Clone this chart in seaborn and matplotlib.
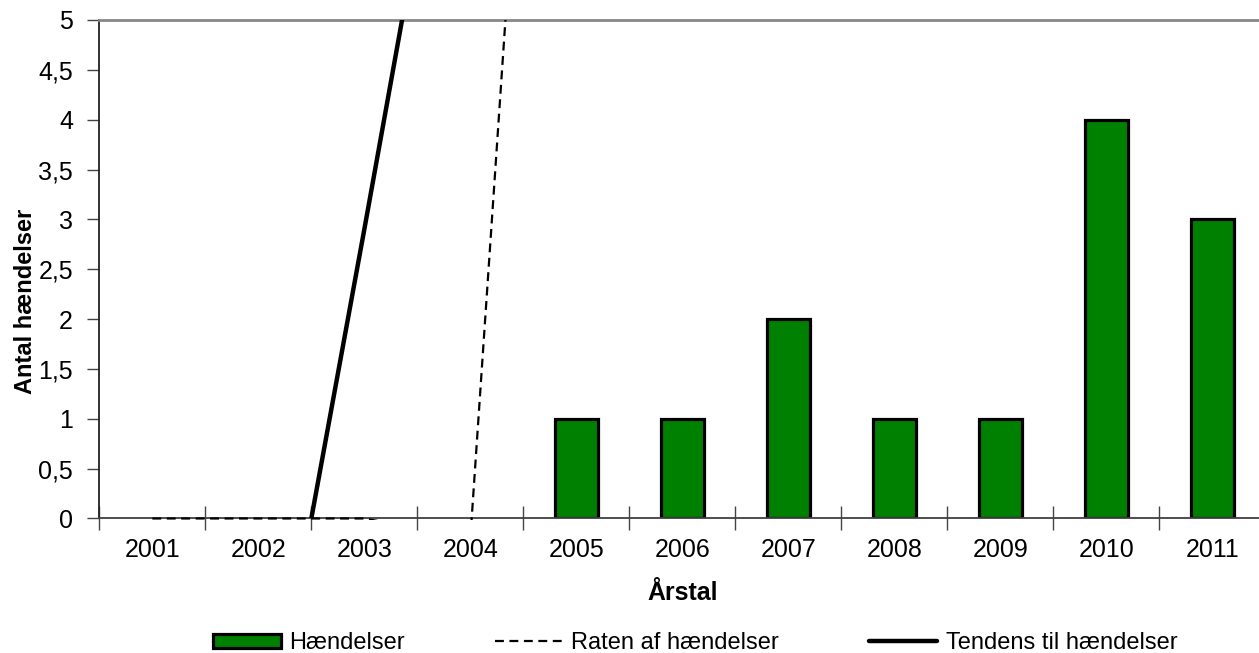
#!/usr/bin/env python3
"""Antal hændelser pr. årstal med rate- og tendenslinje."""

import matplotlib
matplotlib.use("Agg")
import matplotlib.pyplot as plt
import numpy as np
import pandas as pd
import seaborn as sns
from matplotlib.lines import Line2D
from matplotlib.patches import Patch
from matplotlib.transforms import Bbox, TransformedBbox
from matplotlib.ticker import FuncFormatter, FixedLocator

years = ["2001", "2002", "2003", "2004", "2005", "2006", "2007", "2008", "2009", "2010", "2011"]
events = [0, 0, 0, 0, 1, 1, 2, 1, 1, 4, 3]
# rate of events (only the first part falls inside the 0-5 window)
rate = [0, 0, 0, -0.2, 15.5, 16, 18, 17, 16, 20, 19]
# linear trend line, mostly outside the visible window
trend = [-8.8, -2.9, 2.9, 8.8, 14.6, 20.5, 26.4, 32.2, 38.1, 44.0, 49.8]

GREEN = "#008000"
DASH = (0, (4, 2.5))

df = pd.DataFrame({"year": years, "events": events})

sns.set_theme(style="white")
plt.rcParams["font.family"] = ["Liberation Sans", "DejaVu Sans"]
plt.rcParams.update({"text.color": "black", "axes.labelcolor": "black",
                     "xtick.color": "black", "ytick.color": "black"})

fig = plt.figure(figsize=(12.59, 6.53), dpi=100)
ax = fig.add_axes([0.0789, 0.206, 0.9261, 0.7634])

sns.barplot(data=df, x="year", y="events", color=GREEN, edgecolor="black",
            linewidth=2.3, width=0.41, saturation=1, ax=ax, zorder=2)
# empty years get no outline on the axis
for bar in ax.patches:
    if bar.get_height() == 0:
        bar.set_linewidth(0)

pos = np.arange(len(years))
sns.lineplot(x=pos, y=rate, color="black", lw=1.6, linestyle=DASH, ax=ax, zorder=4)
rate_line = ax.lines[-1]
sns.lineplot(x=pos, y=trend, color="black", lw=3.2, ax=ax, zorder=4)

ax.set_xlim(-0.5, len(years) - 0.5)
ax.set_ylim(0, 5)

# let the dashed rate line show fully on top of the x axis
rate_line.set_clip_box(TransformedBbox(Bbox([[-0.5, -0.02], [len(years) - 0.5, 5]]), ax.transData))

ax.set_yticks(np.arange(0, 5.01, 0.5))
ax.yaxis.set_major_formatter(FuncFormatter(lambda v, _: f"{v:g}".replace(".", ",")))

# ticks between categories, labels centred under them
ax.xaxis.set_minor_locator(FixedLocator(np.arange(-0.5, len(years), 1.0)))
ax.tick_params(axis="x", which="major", length=0, pad=14, labelsize=18)
ax.tick_params(axis="x", which="minor", direction="inout", length=17, width=1, color="#444444")
ax.tick_params(axis="y", which="major", direction="out", length=9, width=1, color="#444444",
               pad=10, labelsize=18)
ax.tick_params(left=True, bottom=True)
ax.xaxis.set_tick_params(which="minor", bottom=True)

ax.spines["left"].set_color("#222222")
ax.spines["left"].set_linewidth(1.3)
ax.spines["bottom"].set_color("#404040")
ax.spines["bottom"].set_linewidth(1.3)
ax.spines["top"].set_color("#888888")
ax.spines["top"].set_linewidth(2)
ax.spines["right"].set_visible(False)

ax.set_xlabel("Årstal", fontsize=18, fontweight="bold", labelpad=14)
ax.set_ylabel("Antal hændelser", fontsize=17, fontweight="bold")
ax.yaxis.set_label_coords(-0.0534, 0.436)

handles = [
    Patch(facecolor=GREEN, edgecolor="black", linewidth=2.3),
    Line2D([], [], color="black", lw=1.6, linestyle=DASH),
    Line2D([], [], color="black", lw=3.2),
]
labels = ["Hændelser", "Raten af hændelser", "Tendens til hændelser"]
fig.legend(handles, labels, loc="center", bbox_to_anchor=(695 / 1259, 1 - 643 / 653),
           ncol=3, frameon=False, fontsize=17, handlelength=2.9, handleheight=0.55,
           handletextpad=0.35, columnspacing=3.8, borderpad=0)

fig.savefig("out.png", dpi=100)
